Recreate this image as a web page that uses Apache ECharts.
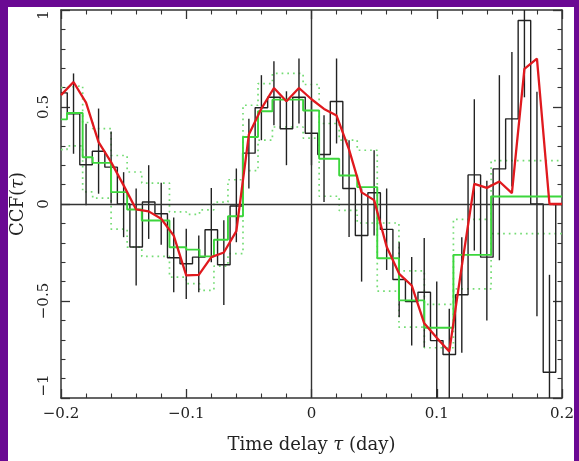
<!DOCTYPE html>
<html>
<head>
<meta charset="utf-8">
<script src="https://cdn.jsdelivr.net/npm/echarts@6/dist/echarts.min.js"></script>
<style>
html,body{margin:0;padding:0;width:579px;height:461px;overflow:hidden;background:#6a0993;}
#frame{position:absolute;left:8px;top:7px;width:566px;height:454px;background:#fff;}
#c{position:absolute;left:0;top:0;width:579px;height:461px;}
</style>
</head>
<body>
<div id="frame"></div>
<div id="c"></div>
<script>
// Time delay bin centres (day)
const tau = [-0.20,-0.19,-0.18,-0.17,-0.16,-0.15,-0.14,-0.13,-0.12,-0.11,-0.10,-0.09,-0.08,-0.07,-0.06,-0.05,-0.04,-0.03,-0.02,-0.01,0.00,
             0.01,0.02,0.03,0.04,0.05,0.06,0.07,0.08,0.09,0.10,0.11,0.12,0.13,0.14,0.15,0.16,0.17,0.18,0.19,0.20];
// Black histogram CCF values
const ccfBlack = [0.573,0.465,0.202,0.272,0.19,0.0,-0.222,0.01,-0.05,-0.277,-0.308,-0.274,-0.133,-0.313,-0.01,0.262,0.496,0.55,0.388,0.55,0.365,
                  0.255,0.528,0.08,-0.162,0.058,-0.131,-0.389,-0.503,-0.455,-0.704,-0.776,-0.468,0.15,-0.274,0.181,0.439,0.946,0.0,-0.867,0.0];
// Error bar extents
const errLow  = [null,0.259,-0.007,0.053,0.002,-0.171,-0.42,-0.18,-0.21,-0.455,-0.49,-0.455,-0.30,-0.52,-0.197,0.08,0.329,0.406,0.2,0.415,0.2,
                 0.01,0.312,-0.17,-0.40,-0.162,-0.34,-0.584,-0.729,-0.738,-1.0,-1.0,-0.767,-0.24,-0.6,-0.29,0.09,0.55,-0.578,-1.0,null];
const errHigh = [null,0.673,0.414,0.492,0.374,0.164,0.08,0.2,0.11,-0.07,-0.128,-0.163,0.083,-0.084,0.183,0.44,0.664,0.736,0.581,0.75,0.53,
                 0.458,0.75,0.328,0.08,0.277,0.08,-0.197,-0.273,-0.175,-0.4,-0.54,-0.171,0.54,0.12,0.664,0.784,1.0,0.578,-0.365,null];
// Red curve
const ccfRed = [0.561,0.629,0.523,0.319,0.216,0.096,-0.028,-0.038,-0.076,-0.163,-0.368,-0.365,-0.274,-0.25,-0.14,0.358,0.492,0.598,0.53,0.598,0.54,
                0.49,0.456,0.28,0.06,0.02,-0.22,-0.36,-0.42,-0.615,-0.69,-0.76,-0.32,0.104,0.083,0.116,0.056,0.697,0.749,0.0,0.0];
// Green binned CCF (irregular bins)
const gEdges = [-0.2,-0.1952,-0.1827,-0.1747,-0.16,-0.1472,-0.1355,-0.1134,-0.1,-0.0894,-0.0779,-0.0667,-0.0547,-0.0427,-0.0312,-0.0067,
                0.0061,0.0221,0.0365,0.0525,0.0698,0.0901,0.1133,0.1434,0.2];
const gMid   = [0.436,0.469,0.241,0.212,0.061,-0.028,-0.085,-0.223,-0.235,-0.27,-0.184,-0.063,0.345,0.478,0.538,0.482,0.233,0.147,0.087,-0.28,-0.497,-0.638,-0.262,0.039];
const gUpper = [0.60,0.61,0.42,0.389,0.25,0.165,0.108,-0.041,-0.053,-0.03,0.01,0.125,0.509,0.621,0.673,0.616,0.415,0.329,0.277,-0.098,-0.345,-0.517,-0.079,0.224];
const gLower = [0.28,0.30,0.062,0.03,-0.13,-0.222,-0.27,-0.377,-0.41,-0.445,-0.32,-0.256,0.172,0.329,0.397,0.34,0.04,-0.033,-0.098,-0.449,-0.635,-0.741,-0.437,-0.153];
// Tick label text
const xTickText = {'-0.2':'\u22120.2','-0.1':'\u22120.1','0':'0','0.1':'0.1','0.2':'0.2'};
const yTickText = {'-1':'{lo|\u22121}','-0.5':'\u22120.5','0':'0','0.5':'0.5','1':'{hi|1}'};

const FONT = 'DejaVu Serif';
const AX = '#333';

function stepData(vals){
  const d = vals.map((v,i)=>[gEdges[i], v]);
  d.push([gEdges[gEdges.length-1], vals[vals.length-1]]);
  return d;
}
function key(v){ return String(Math.round(v*10)/10); }

const baseAxis = {
  axisLine:{show:true,onZero:false,lineStyle:{color:AX,width:1.5}},
  axisTick:{show:true,inside:true,length:9,lineStyle:{color:AX,width:1.3}},
  minorTick:{show:true,splitNumber:5,length:4.5,lineStyle:{color:AX,width:1.1}},
  splitLine:{show:false}, minorSplitLine:{show:false}
};

const chart = echarts.init(document.getElementById('c'));
chart.setOption({
  animation:false,
  grid:{left:61,right:17,top:10,bottom:63},
  xAxis:[
    Object.assign({type:'value',min:-0.2,max:0.2,interval:0.1,position:'bottom',
      axisLabel:{show:true,fontFamily:FONT,fontSize:15,color:'#222',margin:9,
        formatter:v=>xTickText[key(v)]},
      name:'Time delay {i|\u03c4} (day)',nameLocation:'middle',nameGap:38,
      nameTextStyle:{fontFamily:FONT,fontSize:18,color:'#222',
        rich:{i:{fontFamily:FONT,fontStyle:'italic',fontSize:18,color:'#222'}}}},baseAxis),
    Object.assign({type:'value',min:-0.2,max:0.2,interval:0.1,position:'top',axisLabel:{show:false}},baseAxis)
  ],
  yAxis:[
    Object.assign({type:'value',min:-1,max:1,interval:0.5,position:'left',
      axisLabel:{show:true,rotate:90,fontFamily:FONT,fontSize:15,color:'#222',margin:9,
        formatter:v=>yTickText[key(v)],
        rich:{
          lo:{fontFamily:FONT,fontSize:15,color:'#222',padding:[0,0,0,25]},
          hi:{fontFamily:FONT,fontSize:15,color:'#222',padding:[0,10,0,0]}
        }},
      name:'CCF({i|\u03c4})',nameLocation:'middle',nameGap:34,nameRotate:90,
      nameTextStyle:{fontFamily:FONT,fontSize:18,color:'#222',
        rich:{i:{fontFamily:FONT,fontStyle:'italic',fontSize:18,color:'#222'}}}},baseAxis),
    Object.assign({type:'value',min:-1,max:1,interval:0.5,position:'right',axisLabel:{show:false}},baseAxis)
  ],
  series:[
    {type:'line',step:'end',data:stepData(gUpper),symbol:'none',z:2,
     lineStyle:{color:'#74dc74',width:1.7,type:[1.7,4]}},
    {type:'line',step:'end',data:stepData(gLower),symbol:'none',z:2,
     lineStyle:{color:'#74dc74',width:1.7,type:[1.7,4]}},
    {type:'line',step:'middle',data:tau.map((t,i)=>[t,ccfBlack[i]]),symbol:'none',z:3,
     lineStyle:{color:'#222',width:1.4},
     markLine:{silent:true,symbol:'none',label:{show:false},
       lineStyle:{color:'#333',width:1.4,type:'solid'},
       data:[{yAxis:0},{xAxis:0}]}},
    {type:'custom',z:4,
     data:tau.map((t,i)=>[t,errLow[i],errHigh[i]]).filter(d=>d[1]!==null),
     encode:{x:0,y:[1,2]},
     renderItem:(params,api)=>{
       const p1 = api.coord([api.value(0),api.value(1)]);
       const p2 = api.coord([api.value(0),api.value(2)]);
       return {type:'line',shape:{x1:p1[0],y1:p1[1],x2:p2[0],y2:p2[1]},
               style:{stroke:'#222',lineWidth:1.4}};
     }},
    {type:'line',step:'end',data:stepData(gMid),symbol:'none',z:5,
     lineStyle:{color:'#3cd63c',width:1.9}},
    {type:'line',data:tau.map((t,i)=>[t,ccfRed[i]]),symbol:'none',z:6,
     lineStyle:{color:'#e0191e',width:2.3}}
  ]
});
</script>
</body>
</html>
